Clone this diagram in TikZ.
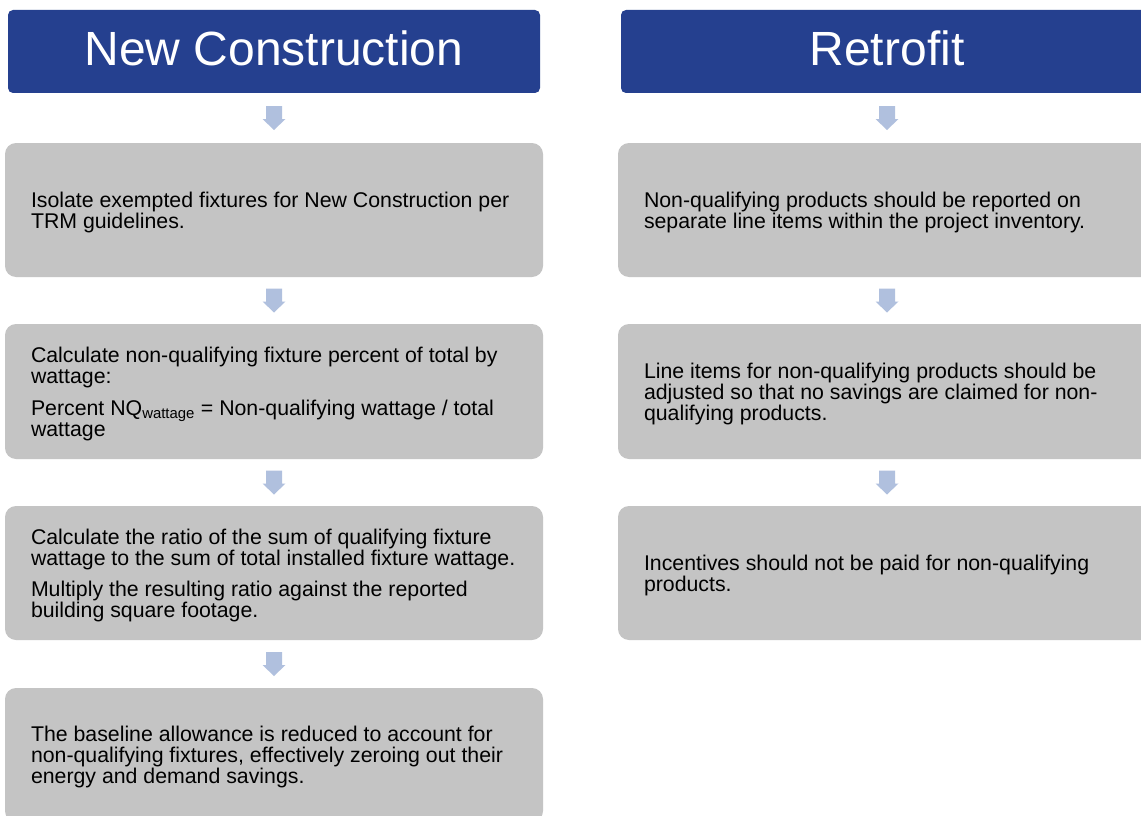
\documentclass[tikz,border=0pt]{standalone}
\usepackage{fontspec}
\setmainfont{Liberation Sans}
\definecolor{hdrblue}{HTML}{25408F}
\definecolor{boxgray}{HTML}{C4C4C4}
\definecolor{arrowc}{HTML}{B0C0DE}
\begin{document}
\begin{tikzpicture}[x=1pt,y=-1pt,
  header/.style={fill=hdrblue, rounded corners=5pt, minimum width=532pt, minimum height=83pt,
    inner sep=0pt, text=white, text depth=6pt, font=\fontsize{48}{50}\selectfont},
  graybox/.style={fill=boxgray, rounded corners=11pt, minimum width=538pt, minimum height=134pt, inner sep=0pt},
  boxtext/.style={anchor=west, align=left, inner sep=0pt, yshift=-2pt, text=black, font=\fontsize{21.3}{21}\selectfont},
  downarrow/.pic={\fill[arrowc] (-8,-12) -- (8,-12) -- (8,1) -- (11.5,1) -- (0,12) -- (-11.5,1) -- (-8,1) -- cycle;}
]
\useasboundingbox (0,0) rectangle (1141,816);
\clip (0,0) rectangle (1141,816);
\fill[white] (0,0) rectangle (1141,816);

% headers
\node[header] (h1) at (274,51.5) {New Construction};
\node[header] (h2) at (887,51.5) {Retrofit};

% left column boxes
\node[graybox] (l1) at (274,210) {};
\node[graybox, minimum height=135pt] (l2) at (274,391.5) {};
\node[graybox] (l3) at (274,573) {};
\node[graybox] (l4) at (274,755) {};

% right column boxes
\node[graybox] (r1) at (887,210) {};
\node[graybox, minimum height=135pt] (r2) at (887,391.5) {};
\node[graybox] (r3) at (887,573) {};

% texts
\node[boxtext] (tl1) at ([xshift=26pt]l1.west) {Isolate exempted fixtures for New Construction per\\TRM guidelines.};
\node[boxtext] (tl2) at ([xshift=26pt]l2.west) {Calculate non-qualifying fixture percent of total by\\wattage:\\[11pt]Percent NQ\textsubscript{wattage} = Non-qualifying wattage / total\\wattage};
\node[boxtext] (tl3) at ([xshift=26pt]l3.west) {Calculate the ratio of the sum of qualifying fixture\\wattage to the sum of total installed fixture wattage.\\[10pt]Multiply the resulting ratio against the reported\\building square footage.};
\node[boxtext] (tl4) at ([xshift=26pt]l4.west) {The baseline allowance is reduced to account for\\non-qualifying fixtures, effectively zeroing out their\\energy and demand savings.};
\node[boxtext] (tr1) at ([xshift=26pt]r1.west) {Non-qualifying products should be reported on\\separate line items within the project inventory.};
\node[boxtext] (tr2) at ([xshift=26pt]r2.west) {Line items for non-qualifying products should be\\adjusted so that no savings are claimed for non-\\qualifying products.};
\node[boxtext] (tr3) at ([xshift=26pt]r3.west) {Incentives should not be paid for non-qualifying\\products.};

% arrows
\path (h1.south) -- (l1.north) coordinate[midway] (a1);
\path (l1.south) -- (l2.north) coordinate[midway] (a2);
\path (l2.south) -- (l3.north) coordinate[midway] (a3);
\path (l3.south) -- (l4.north) coordinate[midway] (a4);
\path (h2.south) -- (r1.north) coordinate[midway] (b1);
\path (r1.south) -- (r2.north) coordinate[midway] (b2);
\path (r2.south) -- (r3.north) coordinate[midway] (b3);
\foreach \c in {a1,a2,a3,a4,b1,b2,b3} { \pic at (\c) {downarrow}; }
\end{tikzpicture}
\end{document}
